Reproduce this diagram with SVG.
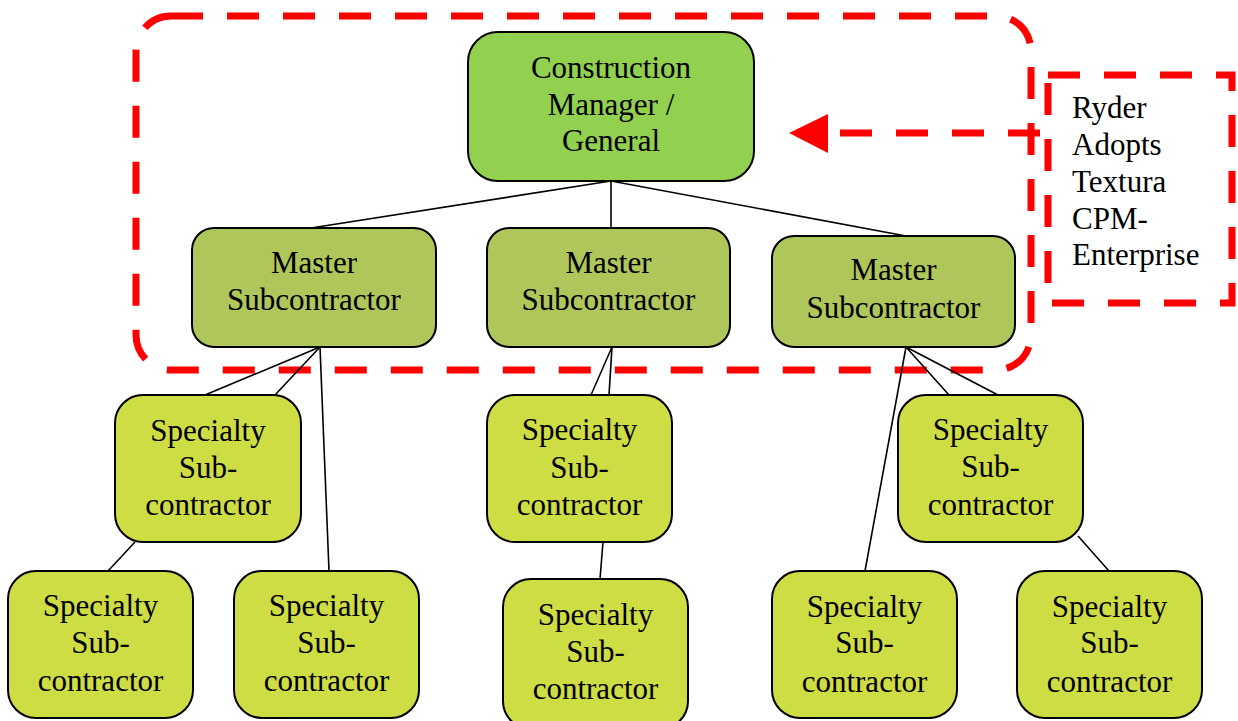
<svg xmlns="http://www.w3.org/2000/svg" width="1238" height="721" viewBox="0 0 1238 721">
<style>
.red{fill:none;stroke:#FF0000;stroke-width:7;stroke-dasharray:32 24}
.con{stroke:#000;stroke-width:1.6;fill:none}
.box{stroke:#000;stroke-width:2}
.cm{fill:#92D050}
.ms{fill:#AFC65B}
.sp{fill:#CFDD44}
text{font-family:"Liberation Serif","Times New Roman",serif;font-size:31px;fill:#000;text-anchor:middle}
.lt{text-anchor:start}
</style>
<rect id="scope" class="red" x="136" y="16" width="895" height="354" rx="35" ry="35"/>
<g id="connectors">
<line class="con" x1="611" y1="181" x2="311" y2="228"/>
<line class="con" x1="611" y1="181" x2="611" y2="228"/>
<line class="con" x1="611" y1="181" x2="906" y2="236"/>
<line class="con" x1="320" y1="347" x2="205" y2="395"/>
<line class="con" x1="320" y1="347" x2="275" y2="395"/>
<line class="con" x1="320" y1="347" x2="329" y2="571"/>
<line class="con" x1="135" y1="542" x2="108" y2="571"/>
<line class="con" x1="612" y1="347" x2="591" y2="395"/>
<line class="con" x1="612" y1="347" x2="609" y2="395"/>
<line class="con" x1="603" y1="542" x2="600" y2="579"/>
<line class="con" x1="906" y1="347" x2="865" y2="571"/>
<line class="con" x1="906" y1="347" x2="949" y2="395"/>
<line class="con" x1="906" y1="347" x2="998" y2="395"/>
<line class="con" x1="1078" y1="536" x2="1109" y2="571"/>
</g>
<g id="cm">
<rect class="box cm" x="468" y="32" width="286" height="149" rx="30"/>
<text x="611" y="78">Construction</text>
<text x="611" y="115">Manager /</text>
<text x="611" y="151">General</text>
</g>
<g id="ms1">
<rect class="box ms" x="192" y="228" width="244" height="119" rx="22"/>
<text x="314" y="273">Master</text>
<text x="314" y="310">Subcontractor</text>
</g>
<g id="ms2">
<rect class="box ms" x="487" y="228" width="243" height="119" rx="22"/>
<text x="608.5" y="273">Master</text>
<text x="608.5" y="310">Subcontractor</text>
</g>
<g id="ms3">
<rect class="box ms" x="772" y="236" width="243" height="111" rx="22"/>
<text x="893.5" y="280">Master</text>
<text x="893.5" y="318">Subcontractor</text>
</g>
<g id="sp1">
<rect class="box sp" x="115" y="395" width="186" height="147" rx="28"/>
<text x="208" y="441">Specialty</text>
<text x="208" y="478">Sub-</text>
<text x="208" y="515">contractor</text>
</g>
<g id="sp2">
<rect class="box sp" x="487" y="395" width="185" height="147" rx="28"/>
<text x="579.5" y="440">Specialty</text>
<text x="579.5" y="478">Sub-</text>
<text x="579.5" y="515">contractor</text>
</g>
<g id="sp3">
<rect class="box sp" x="898" y="395" width="185" height="147" rx="28"/>
<text x="990.5" y="440">Specialty</text>
<text x="990.5" y="477">Sub-</text>
<text x="990.5" y="515">contractor</text>
</g>
<g id="sp4">
<rect class="box sp" x="8" y="571" width="185" height="147" rx="28"/>
<text x="100.5" y="616">Specialty</text>
<text x="100.5" y="653">Sub-</text>
<text x="100.5" y="691">contractor</text>
</g>
<g id="sp5">
<rect class="box sp" x="234" y="571" width="185" height="147" rx="28"/>
<text x="326.5" y="616">Specialty</text>
<text x="326.5" y="653">Sub-</text>
<text x="326.5" y="691">contractor</text>
</g>
<g id="sp6">
<rect class="box sp" x="503" y="579" width="185" height="150" rx="28"/>
<text x="595.5" y="625">Specialty</text>
<text x="595.5" y="662">Sub-</text>
<text x="595.5" y="699">contractor</text>
</g>
<g id="sp7">
<rect class="box sp" x="772" y="571" width="185" height="147" rx="28"/>
<text x="864.5" y="617">Specialty</text>
<text x="864.5" y="653">Sub-</text>
<text x="864.5" y="692">contractor</text>
</g>
<g id="sp8">
<rect class="box sp" x="1017" y="571" width="185" height="147" rx="28"/>
<text x="1109.5" y="617">Specialty</text>
<text x="1109.5" y="653">Sub-</text>
<text x="1109.5" y="692">contractor</text>
</g>
<g id="ryder">
<rect class="red" x="1048" y="75" width="184" height="228"/>
<text class="lt" x="1072" y="118">Ryder</text>
<text class="lt" x="1072" y="155">Adopts</text>
<text class="lt" x="1072" y="192">Textura</text>
<text class="lt" x="1072" y="229">CPM-</text>
<text class="lt" x="1072" y="265">Enterprise</text>
</g>
<g id="arrow">
<line class="red" x1="1040" y1="133" x2="828" y2="133"/>
<polygon points="789,133 828,114 828,153" fill="#FF0000"/>
</g>
</svg>
